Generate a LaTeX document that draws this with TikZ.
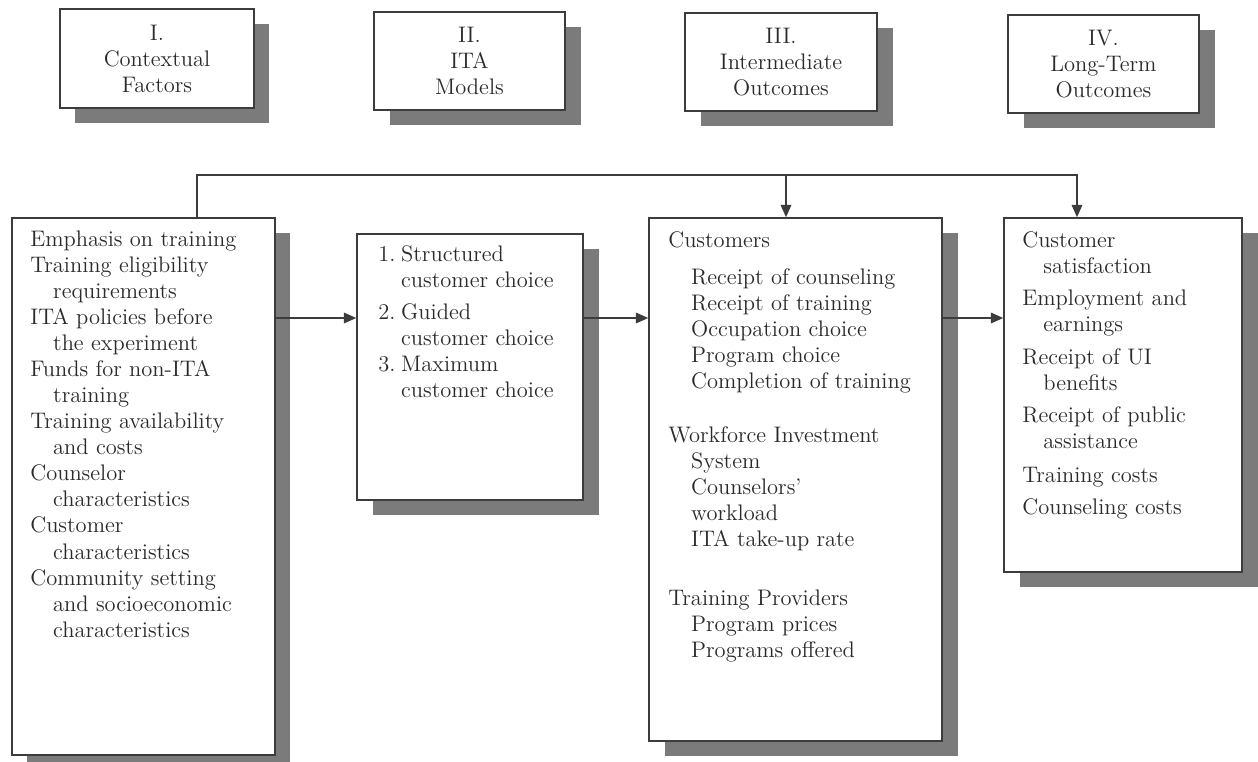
\documentclass[tikz,border=0pt]{standalone}
\usepackage{tikz}
\usetikzlibrary{arrows.meta,positioning,fit,shadows}
\definecolor{itachart-shadow}{HTML}{7B7B7B}
\definecolor{itachart-edge}{HTML}{3C3C3C}
\definecolor{itachart-text}{HTML}{2A2A2A}

\begin{document}
\begin{tikzpicture}[x=0.02cm,y=-0.02cm,
  panel/.style={draw=itachart-edge,line width=0.9pt,fill=white,inner sep=0pt,
    drop shadow={shadow xshift=0.31cm,shadow yshift=-0.3cm,fill=itachart-shadow,opacity=1}},
  head-text/.style={itachart-text,align=center,inner sep=0pt,font=\fontsize{12.8}{14.8}\selectfont},
  list-text/.style={itachart-text,align=left,anchor=north west,inner sep=0pt,font=\fontsize{12.8}{14.8}\selectfont},
  link/.style={draw=itachart-edge,line width=0.9pt},
  flow/.style={link,-{Triangle[length=7pt,width=6pt]}}]
  \useasboundingbox (0,0) rectangle (1258,761);
  \fill[white] (0,0) rectangle (1258,761);

  % column headings
  \node[panel,fit={(60,9) (254,108)}] (hd-ctx) {};
  \node[head-text] (hd-ctx-label) at (hd-ctx.center) {I.\\Contextual\\Factors};
  \node[panel,fit={(374,12) (565,110)}] (hd-ita) {};
  \node[head-text] (hd-ita-label) at (hd-ita.center) {II.\\ITA\\Models};
  \node[panel,fit={(685,13) (877,111)}] (hd-mid) {};
  \node[head-text] (hd-mid-label) at (hd-mid.center) {III.\\Intermediate\\Outcomes};
  \node[panel,fit={(1008,15) (1199,113)}] (hd-lto) {};
  \node[head-text] (hd-lto-label) at (hd-lto.center) {IV.\\Long-Term\\Outcomes};

  % main panels
  \node[panel,fit={(12,218) (275,755)}] (ctx) {};
  \node[panel,fit={(357,234) (583,500)}] (ita) {};
  \node[panel,fit={(649,218) (942,741)}] (mid) {};
  \node[panel,fit={(1004,218) (1242,572)}] (lto) {};

  \node[list-text] (ctx-list) at (30,231) {Emphasis on training\\
    Training eligibility\\
    \hspace*{13pt}requirements\\
    ITA policies before\\
    \hspace*{13pt}the experiment\\
    Funds for non-ITA\\
    \hspace*{13pt}training\\
    Training availability\\
    \hspace*{13pt}and costs\\
    Counselor\\
    \hspace*{13pt}characteristics\\
    Customer\\
    \hspace*{13pt}characteristics\\
    Community setting\\
    \hspace*{13pt}and socioeconomic\\
    \hspace*{13pt}characteristics};

  \node[list-text] (ita-list) at (378,245) {\makebox[13pt][l]{1.}Structured\\
    \hspace*{13pt}customer choice\\[3.4pt]
    \makebox[13pt][l]{2.}Guided\\
    \hspace*{13pt}customer choice\\
    \makebox[13pt][l]{3.}Maximum\\
    \hspace*{13pt}customer choice};

  \node[list-text] (mid-list) at (668,231) {Customers\\[6.3pt]
    \hspace*{13pt}Receipt of counseling\\
    \hspace*{13pt}Receipt of training\\
    \hspace*{13pt}Occupation choice\\
    \hspace*{13pt}Program choice\\
    \hspace*{13pt}Completion of training\\[15.9pt]
    Workforce Investment\\
    \hspace*{13pt}System\\
    \hspace*{13pt}Counselors'\\
    \hspace*{13pt}workload\\
    \hspace*{13pt}ITA take-up rate\\[18.8pt]
    Training Providers\\
    \hspace*{13pt}Program prices\\
    \hspace*{13pt}Programs offered};

  \node[list-text] (lto-list) at (1022,231) {Customer\\
    \hspace*{12pt}satisfaction\\[3.4pt]
    Employment and\\
    \hspace*{12pt}earnings\\[4pt]
    Receipt of UI\\
    \hspace*{12pt}benefits\\[3.4pt]
    Receipt of public\\
    \hspace*{12pt}assistance\\[4.6pt]
    Training costs\\[3.4pt]
    Counseling costs};

  % connectors
  \coordinate (row) at (0,318);
  \draw[flow] (ctx.east |- row) -- (ita.west |- row);
  \draw[flow] (ita.east |- row) -- (mid.west |- row);
  \draw[flow] (mid.east |- row) -- (lto.west |- row);

  \coordinate (fb-left) at (197,175);
  \coordinate (fb-mid) at (786,175);
  \coordinate (fb-right) at (1077,175);
  \draw[flow] (ctx.north -| fb-left) -- (fb-left) -| (lto.north -| fb-right);
  \draw[flow] (fb-mid) -- (mid.north -| fb-mid);
\end{tikzpicture}
\end{document}
